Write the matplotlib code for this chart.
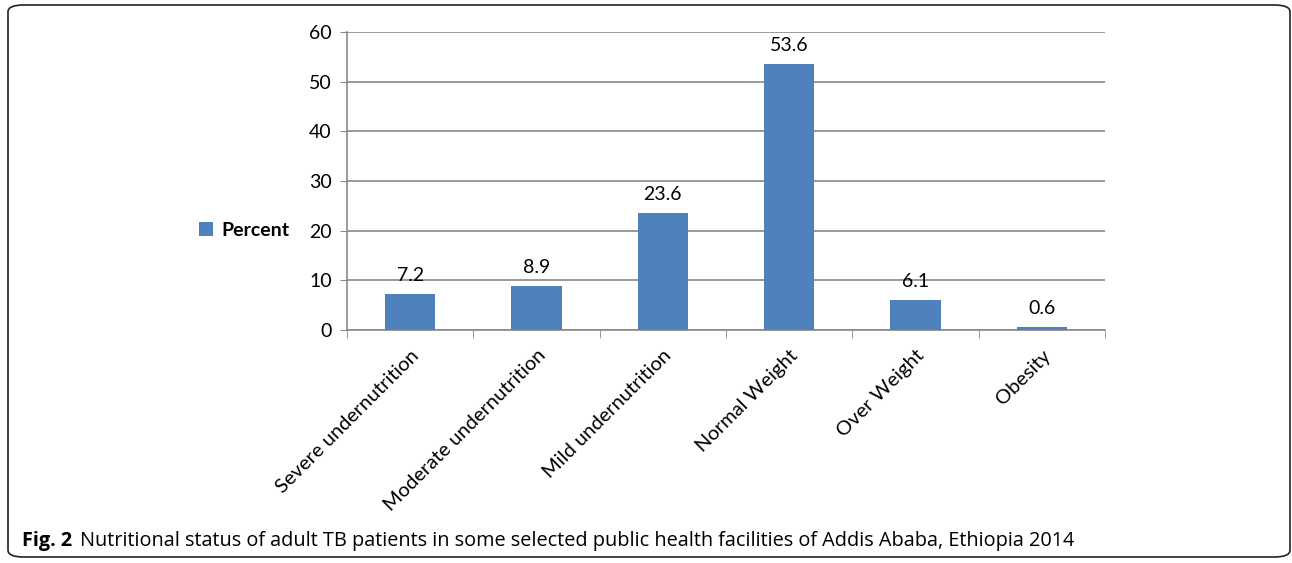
import matplotlib.pyplot as plt
from matplotlib.patches import FancyBboxPatch

# Data
categories = ['Severe undernutrition', 'Moderate undernutrition', 'Mild undernutrition',
              'Normal Weight', 'Over Weight', 'Obesity']
percent = [7.2, 8.9, 23.6, 53.6, 6.1, 0.6]
yticks = [0, 10, 20, 30, 40, 50, 60]

bar_color = '#4F81BD'
grid_color = '#898989'

plt.rcParams['font.family'] = ['Lato', 'DejaVu Sans']

fig = plt.figure(figsize=(12.92, 5.63), dpi=100)

# rounded frame around the whole figure
frame = FancyBboxPatch((8 / 1292, 6 / 563), 1282 / 1292, 552 / 563,
                       boxstyle='round,pad=0,rounding_size=0.012',
                       transform=fig.transFigure, fill=False,
                       edgecolor='#222222', linewidth=1.2)
fig.patches.append(frame)

ax = fig.add_axes([347 / 1292, 1 - 330 / 563, 758 / 1292, 298 / 563])
x = range(len(categories))
bars = ax.bar(x, percent, width=0.4, color=bar_color, zorder=3, label='Percent')

for xi, v in zip(x, percent):
    ax.text(xi, v + 2.0, f'{v}', ha='center', va='bottom', fontsize=14)

ax.set_xlim(-0.5, len(categories) - 0.5)
ax.set_ylim(0, 60)
ax.set_yticks(yticks)
ax.tick_params(axis='y', labelsize=14, length=5, color=grid_color, pad=6)
ax.yaxis.grid(True, color=grid_color, linewidth=1.2, zorder=0)

# category labels at centers, tick marks at boundaries
ax.set_xticks(list(x))
ax.set_xticklabels(categories, rotation=45, ha='right', rotation_mode='anchor', fontsize=14.5)
ax.tick_params(axis='x', length=0, pad=12)
ax.set_xticks([i - 0.5 for i in range(len(categories) + 1)], minor=True)
ax.tick_params(axis='x', which='minor', length=6, color=grid_color)

for side in ['top', 'right']:
    ax.spines[side].set_visible(False)
for side in ['left', 'bottom']:
    ax.spines[side].set_color(grid_color)
    ax.spines[side].set_linewidth(1.2)

leg = fig.legend(handles=[bars], labels=['Percent'], loc='center left',
                 bbox_to_anchor=(182 / 1292, 1 - 230 / 563), frameon=False,
                 handlelength=0.7, handleheight=0.7, handletextpad=0.4,
                 prop={'weight': 'bold', 'size': 14})

fig.text(22 / 1292, 1 - 541 / 563, 'Fig. 2', fontsize=14.3, fontweight='bold',
         family=['Open Sans', 'DejaVu Sans'], va='center')
fig.text(80 / 1292, 1 - 541 / 563,
         'Nutritional status of adult TB patients in some selected public health facilities of Addis Ababa, Ethiopia 2014',
         fontsize=14.3, family=['Open Sans', 'DejaVu Sans'], va='center')

fig.savefig('out.png', dpi=100)
